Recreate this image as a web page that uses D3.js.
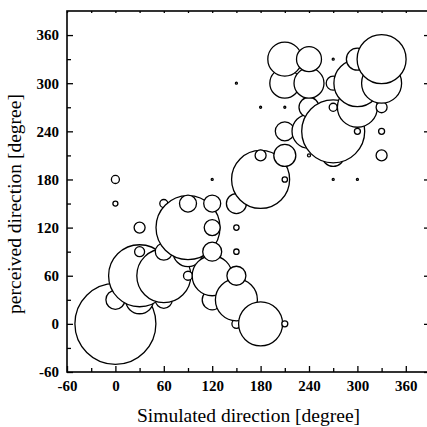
<!DOCTYPE html>
<html>
<head>
<meta charset="utf-8">
<script src="https://cdn.jsdelivr.net/npm/d3@7"></script>
<style>
  body { margin: 0; background: #fff; }
  svg { display: block; }
  .tick text { font-family: "Liberation Serif", "Times New Roman", serif; font-weight: bold; font-size: 15px; fill: #000; }
  .axisTitle { font-family: "Liberation Serif", "Times New Roman", serif; font-size: 19.5px; fill: #000; }
</style>
</head>
<body>
<div id="chart"></div>
<script>
// simulated direction (deg), perceived direction (deg), response count
// ordered by x then y, so later bubbles sit on top like in the original
const simulated = [
  0, 0, 0, 0,
  30, 30, 30, 30,
  60, 60, 60, 60,
  90, 90, 90, 90,
  120, 120, 120, 120, 120, 120,
  150, 150, 150, 150, 150, 150, 150,
  180, 180, 180, 180,
  210, 210, 210, 210, 210, 210, 210,
  240, 240, 240, 240, 240,
  270, 270, 270, 270, 270, 270,
  300, 300, 300, 300, 300,
  330, 330, 330, 330, 330
];
const perceived = [
  0, 30, 150, 180,
  30, 60, 90, 120,
  30, 60, 90, 150,
  60, 90, 120, 150,
  30, 60, 90, 120, 150, 180,
  0, 30, 60, 90, 120, 150, 300,
  0, 180, 210, 270,
  0, 180, 210, 240, 270, 300, 330,
  210, 240, 270, 300, 330,
  180, 210, 240, 270, 300, 330,
  180, 240, 270, 300, 330,
  210, 240, 270, 300, 330
];
const counts = [
  100, 5.5, 0.38, 0.98,
  11.9, 58.6, 1.52, 1.84,
  4.4, 44.4, 4.4, 0.98,
  1.23, 13.7, 62.4, 4.4,
  6.1, 24.4, 5.5, 3.9, 4.4, 0.06,
  1.23, 26.9, 5.5, 0.44, 0.44, 6.1, 0.06,
  29.5, 51.3, 1.84, 0.06,
  0.55, 0.44, 7.4, 5.5, 0.06, 13.7, 17.6,
  0.14, 17.6, 6.1, 13.7, 9.5,
  0.06, 7.4, 60.5, 0.98, 3.0, 0.06,
  0.06, 0.55, 24.4, 33.7, 7.4,
  1.84, 0.55, 1.84, 24.4, 36.6
];
const majorTicks = [-60, 0, 60, 120, 180, 240, 300, 360];
const minorTicks = [-30, 30, 90, 150, 210, 270, 330];

const svgWidth = 427, svgHeight = 427;
const plot = { left: 67, right: 430, top: 11, bottom: 372 };

const svg = d3.select("#chart").append("svg")
  .attr("width", svgWidth)
  .attr("height", svgHeight);

const x = d3.scaleLinear().domain([-60, 390]).range([plot.left, plot.right]);
const y = d3.scaleLinear().domain([-60, 390]).range([plot.bottom, plot.top]);
const r = d3.scaleSqrt().domain([0, 100]).range([0, 40.5]);

const points = simulated.map((s, i) => ({ s: s, p: perceived[i], n: counts[i] }));

// bubbles
svg.append("g")
  .selectAll("circle")
  .data(points)
  .enter()
  .append("circle")
  .attr("cx", d => x(d.s))
  .attr("cy", d => y(d.p))
  .attr("r", d => Math.max(r(d.n), 1))
  .attr("fill", "#fff")
  .attr("stroke", "#000")
  .attr("stroke-width", 1.3);

// axes, ticks pointing inwards
function styleAxis(g) {
  g.select(".domain").remove();
  g.selectAll(".tick line").attr("stroke", "#000").attr("stroke-width", 1.3);
}
const fmt = d => String(d);

svg.append("g")
  .attr("transform", `translate(0,${plot.bottom})`)
  .call(d3.axisBottom(x).tickValues(majorTicks).tickFormat(fmt).tickSizeInner(-6).tickSizeOuter(0).tickPadding(8))
  .call(styleAxis);
svg.append("g")
  .attr("transform", `translate(0,${plot.bottom})`)
  .call(d3.axisBottom(x).tickValues(minorTicks).tickFormat("").tickSizeInner(-4).tickSizeOuter(0))
  .call(styleAxis);

svg.append("g")
  .attr("transform", `translate(${plot.left},0)`)
  .call(d3.axisLeft(y).tickValues(majorTicks).tickFormat(fmt).tickSizeInner(-6).tickSizeOuter(0).tickPadding(8))
  .call(styleAxis);
svg.append("g")
  .attr("transform", `translate(${plot.left},0)`)
  .call(d3.axisLeft(y).tickValues(minorTicks).tickFormat("").tickSizeInner(-4).tickSizeOuter(0))
  .call(styleAxis);

// right and top: unlabelled
svg.append("g")
  .attr("transform", `translate(${plot.right},0)`)
  .call(d3.axisRight(y).tickValues(majorTicks).tickFormat("").tickSizeInner(-6).tickSizeOuter(0))
  .call(styleAxis);
svg.append("g")
  .attr("transform", `translate(${plot.right},0)`)
  .call(d3.axisRight(y).tickValues(minorTicks).tickFormat("").tickSizeInner(-3).tickSizeOuter(0))
  .call(styleAxis);
svg.append("g")
  .attr("transform", `translate(0,${plot.top})`)
  .call(d3.axisTop(x).tickValues(majorTicks.concat(minorTicks)).tickFormat("").tickSizeInner(-2).tickSizeOuter(0))
  .call(styleAxis);

// frame
svg.append("rect")
  .attr("x", plot.left)
  .attr("y", plot.top)
  .attr("width", plot.right - plot.left)
  .attr("height", plot.bottom - plot.top)
  .attr("fill", "none")
  .attr("stroke", "#000")
  .attr("stroke-width", 1.6);

// axis labels
svg.append("text")
  .attr("class", "axisTitle")
  .attr("x", (plot.left + plot.right) / 2)
  .attr("y", 422)
  .style("text-anchor", "middle")
  .text("Simulated direction [degree]");
svg.append("text")
  .attr("class", "axisTitle")
  .attr("transform", "translate(21,204) rotate(-90)")
  .style("text-anchor", "middle")
  .text("perceived direction [degree]");
</script>
</body>
</html>
